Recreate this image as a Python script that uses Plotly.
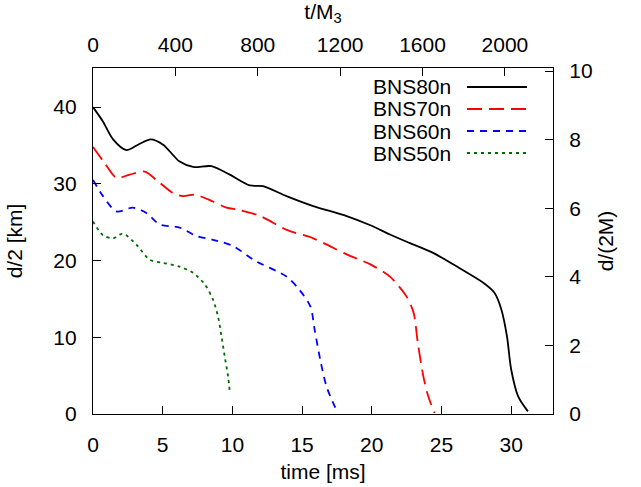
import plotly.graph_objects as go

# Coordinate separation d/2 [km] versus time [ms] for four binary neutron star runs
t80 = [0.0, 0.72, 1.44, 2.4, 3.23, 4.14, 5.03, 6.22, 7.18, 8.5, 9.81, 11.25, 12.2, 13.88, 15.8, 18.2, 19.9, 21.3, 22.7, 24.4, 26.3, 28.0, 28.8, 29.3, 29.7, 30.0, 30.5, 31.2]
d80 = [40.0, 38.1, 35.8, 34.4, 35.1, 35.8, 35.1, 32.9, 32.2, 32.3, 31.2, 29.8, 29.7, 28.4, 27.1, 25.8, 24.6, 23.4, 22.3, 21.0, 19.0, 17.1, 15.8, 13.6, 10.1, 5.8, 2.3, 0.34]

t70 = [0.0, 0.84, 1.68, 2.63, 3.71, 4.55, 5.74, 6.46, 7.3, 8.6, 9.57, 10.5, 12.0, 13.9, 15.8, 18.2, 19.9, 21.3, 22.5, 23.0, 23.3, 23.7, 24.05, 24.5]
d70 = [34.8, 32.7, 30.8, 31.2, 31.6, 30.5, 28.8, 28.4, 28.6, 27.7, 26.9, 26.6, 25.8, 24.0, 22.9, 20.8, 19.5, 17.9, 15.3, 13.2, 9.3, 4.9, 2.3, 0.13]

t60 = [0.0, 0.72, 1.68, 2.87, 3.83, 4.79, 6.22, 7.42, 8.61, 10.05, 11.6, 13.9, 14.8, 15.6, 15.9, 16.3, 16.75, 17.5]
d60 = [30.5, 28.4, 26.4, 26.9, 26.2, 24.7, 24.3, 23.2, 22.7, 21.9, 20.0, 17.9, 16.2, 14.0, 11.0, 7.1, 3.6, 0.34]

t50 = [0.0, 0.72, 1.44, 2.15, 3.1, 4.07, 5.03, 6.22, 7.18, 8.02, 8.61, 8.97, 9.22, 9.45, 9.69, 9.81]
d50 = [25.1, 23.3, 22.9, 23.5, 22.1, 20.1, 19.7, 19.2, 18.4, 16.9, 14.9, 12.7, 10.1, 7.5, 4.9, 2.9]

labels = ["BNS80n", "BNS70n", "BNS60n", "BNS50n"]
times = [t80, t70, t60, t50]
dists = [d80, d70, d60, d50]
colors = ["#000000", "#ff0000", "#0000ff", "#006b00"]
dashes = ["solid", "15px,7px", "7px,6px", "3px,4px"]

# unit conversions for the secondary axes
MS_PER_M3 = 0.014776   # 3 solar masses in ms
KM_PER_M = 4.47        # total mass in km
T_MAX = 33.0
D_MAX = 45.1

FONT = "Liberation Sans, Arial, sans-serif"
FS = 21

fig = go.Figure()
for lab, t, d, c, ds in zip(labels, times, dists, colors, dashes):
    fig.add_trace(go.Scatter(
        x=t, y=d, mode="lines", name=lab,
        line=dict(color=c, width=1.8, dash=ds, shape="spline", smoothing=0.8),
        showlegend=False,
    ))

# invisible trace carrying the secondary (top/right) axes
fig.add_trace(go.Scatter(x=[0], y=[0], xaxis="x2", yaxis="y2",
                         mode="markers", marker=dict(opacity=0),
                         showlegend=False, hoverinfo="skip"))

axis_common = dict(
    showgrid=False, zeroline=False, showline=True, linecolor="black",
    linewidth=1.3, ticks="inside", ticklen=8, tickwidth=1, tickcolor="black",
    tickfont=dict(family=FONT, size=FS, color="black"), automargin=False,
)

fig.update_layout(
    width=641, height=487,
    margin=dict(l=93, r=88, t=68, b=73),
    paper_bgcolor="white", plot_bgcolor="white",
    font=dict(family=FONT, size=FS, color="black"),
    xaxis=dict(range=[0, T_MAX], tickvals=[0, 5, 10, 15, 20, 25, 30],
               title=dict(text="time [ms]", standoff=8, font=dict(size=FS)),
               ticklabelstandoff=12, **axis_common),
    yaxis=dict(range=[0, D_MAX], tickvals=[0, 10, 20, 30, 40],
               title=dict(text="d/2 [km]", standoff=24, font=dict(size=FS)),
               ticklabelstandoff=11, **axis_common),
    xaxis2=dict(range=[0, T_MAX / MS_PER_M3], overlaying="x", side="top",
                tickvals=[0, 400, 800, 1200, 1600, 2000],
                title=dict(text="t/M<sub>3</sub>", standoff=10, font=dict(size=FS)),
                ticklabelstandoff=6, **axis_common),
    yaxis2=dict(range=[0, D_MAX / KM_PER_M], overlaying="y", side="right",
                tickvals=[0, 2, 4, 6, 8, 10],
                title=dict(text="d/(2M)", standoff=6, font=dict(size=FS)),
                ticklabelstandoff=11, **axis_common),
)

# key box: label on the left, line sample on the right
x0_px, x1_px, xt_px = 467, 527, 453
left, right = 93, 553
top, bottom = 68, 414
def px_x(p):
    return (p - left) / (right - left)
def px_y(p):
    return 1 - (p - top) / (bottom - top)

row_y = [87, 109, 131, 153]
for lab, c, ds, y in zip(labels, colors, dashes, row_y):
    fig.add_annotation(x=px_x(xt_px), y=px_y(y), xref="paper", yref="paper",
                       text=lab, showarrow=False, xanchor="right", yanchor="middle",
                       font=dict(family=FONT, size=FS, color="black"))
    fig.add_shape(type="line", xref="paper", yref="paper",
                  x0=px_x(x0_px), x1=px_x(x1_px), y0=px_y(y), y1=px_y(y),
                  line=dict(color=c, width=1.8, dash=ds))

fig.write_html("out.html")
